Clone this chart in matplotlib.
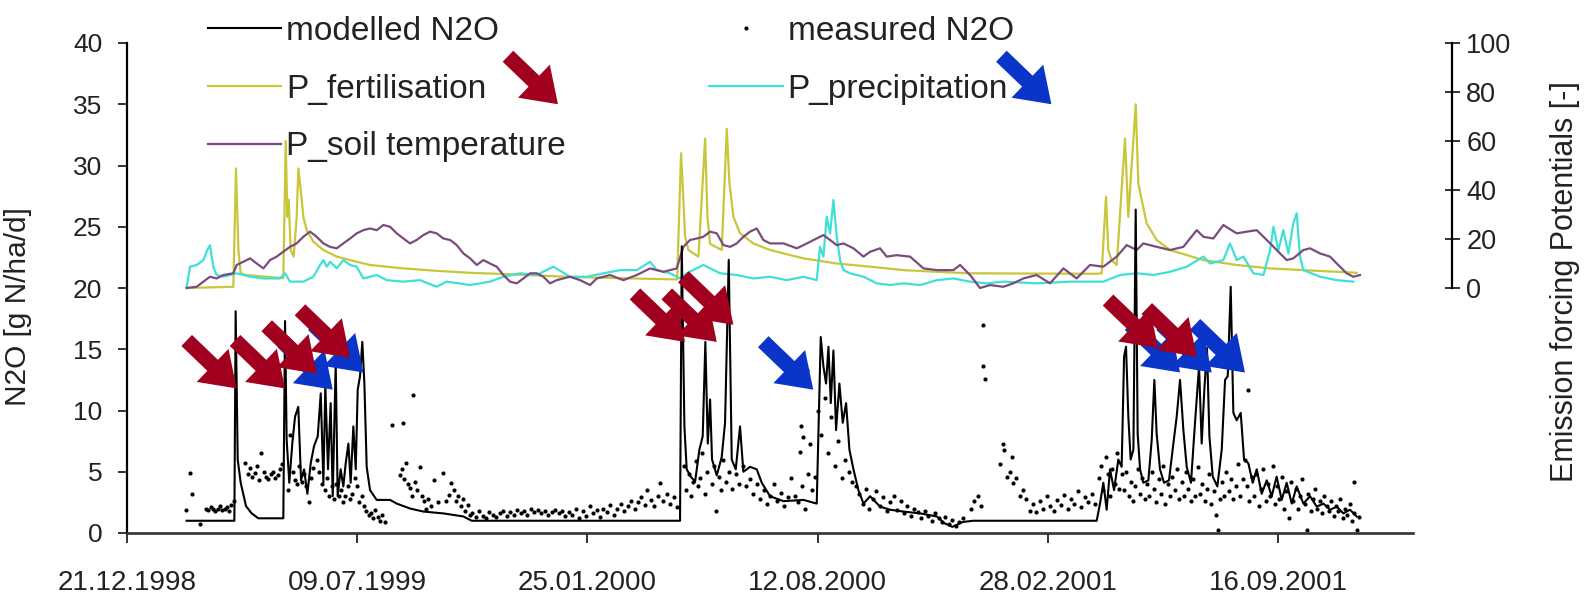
import numpy as np
import pandas as pd
import matplotlib
matplotlib.use("Agg")
import matplotlib.pyplot as plt
import matplotlib.dates as mdates

plt.rcParams['font.family'] = ['Liberation Sans', 'DejaVu Sans']

# ---------------- data (x = days after 21.12.1998) ----------------
START = '1998-12-21'
tick_labels = ['21.12.1998', '09.07.1999', '25.01.2000', '12.08.2000', '28.02.2001', '16.09.2001']
x_end_days = 1117

modelled = [
    (52, 1.0), (93.5, 1.0), (94.6, 18.1), (96.4, 6.0), (99, 4.1), (103.6, 2.2), (108.5, 1.6), (114.3, 1.2),
    (136, 1.2), (137.5, 17.3), (138.9, 7.6), (141.2, 4.1), (143.8, 7.3), (146.2, 9.5), (149, 10.3), (151.4, 4.3),
    (154, 5.2), (156.9, 3.2), (159.8, 5.7), (162.7, 7.1), (165.9, 7.9), (168.5, 11.4), (170.8, 4.1), (172.5, 12.0),
    (174.8, 5.2), (177.1, 10.6), (178.9, 3.0), (181.5, 13.9), (183.2, 3.0), (185.8, 5.2), (188.1, 3.8), (190.2, 5.7),
    (192.5, 7.3), (194.5, 4.1), (196.8, 8.7), (198.9, 5.2), (200.6, 11.7), (202.6, 12.8), (204.6, 15.6), (206.4, 12.2),
    (208.4, 5.4), (211.3, 3.5), (217.1, 2.7), (228.7, 2.7), (234.5, 2.4), (246, 2.0), (257.6, 1.75), (275, 1.6),
    (292.4, 1.35), (299.6, 1.0),
    (480.5, 1.0), (482, 23.4), (484.3, 8.7), (486.3, 5.2), (489.8, 4.6), (493.6, 4.2), (497.3, 6.8), (500.2, 7.9),
    (502.5, 15.6), (504.6, 7.3), (506.6, 10.9), (508.3, 6.0), (512.4, 4.7), (516.7, 6.2), (519.6, 9.0), (522.8, 22.3),
    (525.4, 6.0), (528.9, 5.2), (532.6, 8.7), (535.5, 5.0), (541.3, 5.4), (547.1, 5.2), (551.5, 4.1), (558.7, 3.0),
    (570.3, 2.6), (587.7, 2.7), (599.2, 2.4), (602.7, 16.0), (605, 13.6), (607.3, 12.2), (609.4, 15.2), (611.4, 10.6),
    (613.7, 14.9), (616, 8.4), (618.9, 12.2), (621.8, 9.0), (624.7, 10.6), (627.6, 6.8), (631.1, 5.2), (635.4, 3.5),
    (639.8, 2.4), (645.6, 3.0), (654.2, 2.15), (662.9, 1.9), (674.5, 1.75), (689, 1.6), (703.5, 1.35), (710, 0.8),
    (717, 0.5), (726, 0.9), (735, 1.0),
    (842.3, 1.0), (845.2, 2.4), (848.1, 4.1), (851, 1.9), (853.9, 5.2), (857.4, 3.5), (861.1, 6.0), (864, 5.4),
    (866.1, 14.4), (867.8, 15.2), (869.8, 9.5), (871.8, 6.0), (874.2, 6.8), (876.2, 26.4), (877.9, 8.1), (880, 5.2),
    (882.8, 4.1), (887.2, 4.3), (890.1, 7.6), (892.4, 12.5), (894.4, 8.1), (897.3, 5.2), (900.8, 4.1), (905.1, 4.3),
    (908.9, 7.3), (911.8, 9.5), (914.7, 12.5), (917.6, 8.4), (920.5, 5.4), (924.2, 4.1), (927.7, 9.0), (931.2, 13.6),
    (933.5, 7.3), (935.8, 11.7), (938.1, 15.1), (940.2, 7.9), (943.1, 4.6), (947.1, 3.8), (950.9, 6.8), (953.8, 12.5),
    (956.1, 12.8), (958.7, 20.1), (961, 9.8), (963.9, 9.2), (967.4, 9.8), (970.3, 6.0), (974, 5.7), (977.8, 4.1),
    (981.3, 5.2), (985.6, 3.2), (990, 4.3), (994.3, 3.0), (998.6, 4.6), (1003, 2.7), (1007.3, 4.1), (1011.7, 2.4),
    (1016, 3.8), (1021.8, 2.4), (1027.6, 3.0), (1033.4, 2.15), (1039.2, 2.4), (1045, 1.9), (1050.8, 2.15),
    (1056.5, 1.6), (1062.3, 1.9), (1068.1, 1.35),
]

measured = [
    (51.5, 1.9), (55, 4.9), (56.4, 3.2), (63.7, 0.7),
    (69, 2.0), (71, 1.9), (73, 2.1), (75, 2.0), (77, 1.8), (79, 2.0), (81, 2.2), (83, 1.9), (85, 2.0), (87, 2.1),
    (89, 1.8), (91, 2.3), (93, 2.6),
    (103, 5.7), (105, 4.8), (107, 5.3), (109, 4.6), (111, 4.9), (113, 5.5), (115, 4.3), (117, 6.5), (119, 5.0),
    (121, 4.6), (123, 4.4), (125, 4.8), (127, 5.0), (129, 4.5), (131, 4.7), (133, 5.2), (135, 5.6),
    (140, 3.5), (142, 8.0), (144, 5.0), (146, 4.3), (148, 4.0), (150, 5.5), (152, 4.2), (154, 4.8), (156, 3.8),
    (158, 2.5), (160, 4.5), (162, 5.3), (165, 6.0), (167, 5.0), (170, 4.0), (172, 3.5), (174, 4.5), (176, 3.0),
    (178, 3.8), (180, 2.8), (182, 4.0), (184, 3.0), (186, 3.5), (188, 2.5), (190, 3.0), (192, 3.8), (194, 2.8),
    (196, 3.2), (198, 4.5), (200, 3.8), (202, 2.5), (204, 3.0), (206, 2.2), (208, 1.8), (210, 1.5),
    (212, 1.6), (214, 1.2), (216, 1.9), (218, 1.3), (220, 1.0), (222, 1.5), (224, 0.9),
    (230, 8.8), (240.2, 9.0), (248.9, 11.3), (237, 4.7), (239, 5.2), (241, 4.4), (242.7, 5.7), (244, 4.0),
    (246, 3.7), (248, 3.0), (250, 4.2), (252, 3.5), (254.5, 5.4), (256, 3.0), (258, 2.6), (260, 2.0), (262, 2.8),
    (264, 2.2), (267, 4.3), (270, 2.5), (275, 4.9), (277, 2.6), (280, 3.1), (282, 4.1), (284, 3.5), (286, 2.6),
    (288, 3.0), (290, 2.2), (292, 2.8), (294, 1.8), (296, 2.3), (298, 1.5),
    (300, 1.6), (303, 1.3), (306, 1.8), (309, 1.4), (312, 1.2), (315, 1.7), (318, 1.5), (321, 1.3), (324, 1.6),
    (327, 1.8), (330, 1.4), (333, 1.7), (336, 1.5), (339, 1.9), (342, 1.6), (345, 1.8), (348, 1.5), (351, 2.0),
    (354, 1.7), (357, 1.9), (360, 1.6), (363, 1.8), (366, 1.5), (369, 1.7), (372, 1.9), (375, 1.6), (378, 1.8),
    (381, 1.4), (384, 1.7),
    (387, 1.5), (390, 2.0), (393, 1.2), (396, 1.8), (399, 1.4), (402, 2.2), (405, 1.6), (408, 1.9), (411, 1.3),
    (414, 2.0), (417, 1.7), (420, 2.3), (423, 1.5), (426, 2.0), (429, 2.4), (432, 1.8), (435, 2.2), (438, 2.6),
    (441, 2.0), (444, 2.5), (447, 2.9), (450, 2.3), (452, 3.5), (455, 2.7), (458, 2.2), (461, 3.0), (463, 4.1),
    (466, 2.6), (469, 3.2), (472, 2.4), (475, 2.9), (478, 2.1),
    (484, 5.5), (486, 3.5), (488, 4.8), (490, 3.0), (492, 4.2), (494, 5.9), (496, 3.8), (498, 4.5), (500, 6.5),
    (502, 3.2), (504, 5.0), (508, 4.0), (510, 5.5), (512, 1.8), (514, 4.6), (516, 3.5), (518, 6.0), (520, 4.2),
    (523, 5.0), (526, 3.6), (529, 4.8), (532, 4.0), (535, 5.5), (538, 3.8), (541, 4.4), (544, 3.2), (547, 4.0),
    (550, 2.8), (553, 3.5), (556, 2.4), (559, 3.0), (562, 4.0), (565, 2.6), (568, 3.3), (571, 2.2), (574, 2.9),
    (577, 4.5), (580, 3.0), (583, 2.5), (584.8, 6.6), (585.3, 8.7), (586, 3.8), (587.7, 7.8), (589, 2.0),
    (591, 13.3), (592, 4.8), (593.4, 7.3), (595, 3.5), (598, 4.6),
    (600, 10.0), (603, 8.0), (606, 11.0), (609, 6.5), (612, 9.5), (615, 5.5), (618, 7.5), (621, 4.5), (624, 6.0),
    (627, 5.0), (630, 4.2), (633, 3.8),
    (636, 3.2), (639, 2.4), (642, 3.6), (645, 2.0), (648, 2.8), (651, 3.4), (654, 2.2), (657, 2.9), (660, 1.8),
    (663, 2.5), (666, 3.0), (669, 1.9), (672, 2.6), (675, 1.6), (678, 2.2), (681, 1.4), (684, 2.0), (687, 1.7),
    (690, 1.2), (693, 1.8), (696, 1.4), (699, 1.0), (702, 1.6), (705, 1.2), (708, 0.9), (711, 1.3), (714, 0.7),
    (717, 1.1), (720, 0.6), (723, 0.9), (726, 1.2),
    (733, 2.0), (736, 2.6), (739, 3.0), (742, 2.2), (743.9, 17.0), (743.9, 13.6), (745.3, 12.6),
    (758.4, 5.6), (761.3, 7.3), (762, 6.8), (768.5, 6.2), (764.1, 4.6), (770, 4.1), (775.7, 3.0), (767, 5.0),
    (772, 4.5), (778, 3.5),
    (781, 2.8), (784, 1.8), (787, 2.4), (790, 1.7), (793, 2.6), (796, 2.0), (799, 3.0), (802, 2.2), (805, 1.8),
    (808, 2.7), (811, 2.3), (814, 3.1), (817, 2.0), (820, 2.8), (823, 2.4), (826, 3.4), (829, 2.1), (832, 2.9),
    (835, 2.5), (838, 3.2), (841, 2.4),
    (844, 4.5), (846, 5.5), (848, 3.5), (850, 6.2), (852, 4.8), (854, 3.0), (856, 5.2), (858, 4.0), (860, 6.5),
    (862, 3.6), (864, 4.8),
    (866, 3.5), (868, 5.0), (870, 3.0), (872, 4.2), (874, 2.6), (876, 3.8), (878, 5.2), (880, 3.2), (882, 4.5),
    (884, 2.8), (886, 4.0), (888, 3.0), (890, 5.0), (892, 3.6), (894, 2.5), (896, 4.4), (898, 3.2), (900, 5.5),
    (902, 2.4), (904, 4.0), (906, 3.0), (908, 4.6), (910, 3.5), (912, 5.2), (914, 2.8), (916, 4.2), (918, 3.0),
    (920, 5.0), (922, 3.6), (924, 2.6), (926, 4.4), (928, 3.0), (930, 5.4), (932, 3.2), (934, 4.0), (936, 2.6),
    (938, 3.6), (940, 4.8), (942, 2.4), (944, 3.4), (946, 1.5), (948, 0.27), (949, 2.8), (951, 4.2), (953, 3.0),
    (955, 5.0), (957, 3.4), (959, 4.4), (961, 2.8), (963, 3.8), (965, 5.6), (967, 3.0), (969, 4.4), (971, 6.0),
    (973, 3.8), (974, 11.7), (975, 2.6), (977, 4.6),
    (979, 3.0), (981, 4.8), (983, 2.2), (985, 3.6), (987, 5.2), (989, 2.6), (991, 4.0), (993, 3.0), (995, 5.5),
    (997, 2.4), (999, 3.8), (1001, 2.8), (1003, 4.6), (1005, 2.0), (1007, 3.4), (1009, 1.2), (1011, 4.2),
    (1013, 2.6), (1015, 3.6), (1017, 2.0), (1019, 3.0), (1021, 4.4), (1023, 2.4), (1024.7, 0.25), (1026, 3.2),
    (1028, 1.8), (1030, 2.8), (1032, 3.6), (1034, 2.0), (1036, 2.6), (1038, 1.6), (1040, 3.0), (1042, 2.2),
    (1044, 1.8), (1046, 2.6), (1048, 1.4), (1050, 2.2), (1052, 1.8), (1054, 2.8), (1056, 1.2), (1058, 2.0),
    (1060, 1.5), (1062, 2.4), (1064, 1.0), (1065.6, 4.2), (1066, 1.6), (1068, 0.25), (1070, 1.3),
]

p_fertilisation = [
    (52, 0), (92.6, 0.5), (94.9, 48.8), (97, 15.5), (99, 6.0), (103.7, 5.3), (136, 4.0), (138.1, 60), (139.5, 29),
    (140.7, 36), (142.4, 15.5), (145, 12.8), (147.6, 29), (149.1, 48.8), (151.1, 40), (153.4, 29), (156.3, 23.6),
    (162.1, 18.9), (170.8, 15.5), (182.4, 12.8), (199.7, 10.7), (211.3, 9.4), (240.3, 8.0), (269.2, 7.0),
    (298.2, 6.2), (338.7, 5.5), (385, 4.5), (430, 4.0), (478, 3.5),
    (481.4, 55), (483.4, 36), (484.9, 21), (487.8, 15.5), (496.5, 12.8), (502.3, 61), (504.3, 29), (506.6, 18),
    (516.7, 15.5), (521.1, 65), (523.4, 42.7), (526.9, 29), (532.6, 22.3), (544.2, 18.2), (558.7, 15.5),
    (587.7, 12.1), (616.6, 10), (645.6, 8.7), (674.5, 7.3), (703.5, 6.6), (732.4, 6.0),
    (842.3, 5.8), (846.6, 6.0), (850.4, 37.3), (852.4, 15.5), (855.3, 11.4), (859.7, 9.4), (866.9, 61),
    (869.8, 29), (872.7, 50), (876.2, 75), (878.5, 42.7), (881.4, 36), (885.7, 26.4), (894.4, 19.6), (906, 15.5),
    (934.9, 11.4), (963.9, 9.4), (992.8, 8.0), (1021.8, 7.3), (1068.1, 6.2),
]

p_precipitation = [
    (52.1, 0.5), (55, 8.7), (60.8, 9.4), (66.6, 11.4), (70, 15.5), (72.3, 17.5), (75.2, 8.7), (78.1, 5.3),
    (83.9, 4.6), (95.5, 6.0), (107.1, 4.6), (118.7, 3.9), (133.1, 3.9), (137.5, 6.0), (141.8, 2.6), (153.4, 2.6),
    (162.1, 4.6), (167.9, 9.4), (170.8, 11.4), (173.7, 8.7), (176.6, 10.7), (182.4, 8.0), (188.1, 11.4),
    (194, 9.4), (199.7, 8.7), (205.5, 3.9), (211.3, 4.6), (217.1, 5.3), (225.8, 3.2), (240.3, 2.6), (254.7, 3.2),
    (269.2, 0.5), (277.9, 2.6), (298.2, 1.2), (315.5, 2.6), (327.1, 4.6), (341.6, 6.0), (356.1, 5.3),
    (370.5, 8.7), (385, 4.6), (399.5, 4.6), (414, 6.0), (428.4, 7.3), (442.9, 7.3), (454.5, 10.7), (460.3, 7.3),
    (471.9, 6.0), (480.5, 3.9), (486.3, 6.0), (500.8, 9.4), (515.3, 6.0), (529.8, 5.3), (544.2, 3.9),
    (558.7, 4.6), (573.2, 3.2), (587.7, 4.6), (599.2, 3.2), (602.1, 16.8), (605, 12.8), (607.9, 29.1),
    (610.8, 22.3), (613.7, 35.9), (616.6, 20.9), (619.5, 11.4), (622.4, 7.3), (628.2, 6.0), (639.8, 4.6),
    (651.3, 1.9), (662.9, 1.2), (674.5, 1.9), (689, 1.2), (703.5, 3.2), (717.9, 3.9), (732.4, 2.6),
    (746.8, 1.9), (761.3, 2.6), (790.2, 1.9), (819.2, 2.6), (848.1, 2.6), (862.6, 5.3), (877.1, 6.0),
    (891.5, 5.3), (906, 6.6), (920.5, 8.7), (935, 12.8), (940.8, 10.0), (952.3, 11.4), (958.1, 18.2),
    (963.9, 11.4), (969.7, 12.8), (978.4, 6.0), (987.1, 5.3), (992.9, 15.5), (995.8, 25.0), (1000.1, 15.5),
    (1004.4, 23.6), (1008.8, 14.1), (1013.1, 26.4), (1016, 30.5), (1018.9, 12.8), (1021.8, 7.3), (1036.3, 4.6),
    (1050.8, 3.2), (1065.2, 2.6),
]

p_soil_temperature = [
    (52.1, 0), (60.8, 0.5), (66.6, 2.6), (72.3, 4.6), (78.1, 3.9), (83.9, 5.3), (92.6, 6.0), (95.5, 9.4),
    (101.3, 10.7), (107.1, 12.1), (112.9, 10.0), (118.7, 8.0), (124.5, 11.4), (130.2, 12.8), (136, 14.8),
    (141.8, 16.8), (147.6, 18.2), (153.4, 20.9), (159.2, 23.0), (165, 20.9), (170.8, 18.2), (176.6, 16.8),
    (182.4, 16.2), (188.1, 18.2), (194, 20.2), (199.7, 22.3), (205.5, 23.6), (211.3, 24.3), (217.1, 23.6),
    (222.9, 25.7), (228.7, 25.0), (234.5, 22.3), (240.3, 20.2), (246, 18.2), (251.8, 19.6), (257.6, 21.6),
    (263.4, 23.0), (269.2, 22.3), (275, 20.2), (280.8, 19.6), (286.6, 17.5), (292.4, 14.1), (298.2, 12.1),
    (304, 9.4), (309.7, 11.4), (315.5, 10.0), (321.3, 8.7), (327.1, 5.3), (332.9, 2.6), (338.7, 1.9),
    (344.5, 3.9), (350.3, 6.0), (356.1, 6.0), (361.8, 4.6), (367.6, 1.9), (373.4, 3.2), (379.2, 3.9),
    (385, 4.6), (393.7, 3.2), (402.4, 1.2), (408.2, 3.9), (419.7, 5.3), (431.3, 3.2), (442.9, 5.3),
    (454.5, 8.0), (466.1, 6.6), (477.6, 8.0), (483.4, 16.8), (489.2, 19.6), (495, 20.2), (500.8, 20.9),
    (506.6, 23.0), (512.4, 22.3), (518.2, 17.5), (524, 16.8), (529.8, 18.2), (535.5, 20.9), (541.3, 23.0),
    (547.1, 24.3), (552.9, 19.6), (558.7, 18.2), (570.3, 18.2), (581.9, 16.2), (587.7, 17.5), (599.2, 20.2),
    (605, 21.6), (610.8, 19.6), (616.6, 17.5), (622.4, 18.2), (631.1, 16.2), (639.8, 12.8), (645.6, 14.8),
    (654.2, 16.2), (660, 12.8), (668.7, 13.4), (680.3, 12.8), (691.9, 8.0), (703.5, 7.3), (717.9, 7.3),
    (723.7, 9.4), (732.4, 5.3), (741, 0.0), (749.7, 1.2), (761.3, 0.5), (769.9, 1.9), (778.6, 3.9),
    (790.2, 5.3), (801.8, 1.9), (813.4, 8.0), (824.9, 3.9), (836.5, 9.4), (848.1, 8.7), (859.7, 12.8),
    (868.4, 17.5), (877.1, 15.5), (882.8, 18.2), (894.4, 16.8), (906, 15.5), (917.6, 16.8), (929.2, 23.6),
    (935, 20.9), (943.6, 20.2), (952.3, 25.7), (963.9, 22.3), (972.6, 23.0), (981.3, 23.6), (990, 19.6),
    (998.6, 15.5), (1007.3, 11.4), (1013.1, 12.1), (1021.8, 15.5), (1027.6, 16.2), (1036.3, 14.1),
    (1045, 12.8), (1050.8, 10.0), (1059.4, 6.0), (1065.2, 4.6), (1071, 5.3),
]

# annotation arrows: tip position (day, N2O value)
red_arrow_tips = [(95.5, 11.8), (137.5, 11.8), (165, 13.0), (193.9, 14.3), (484.8, 15.6), (512.4, 15.6),
                  (526.8, 17.0), (895.6, 15.1), (929.2, 14.4), (374.5, 35.0)]
blue_arrow_tips = [(178.9, 11.7), (205.5, 13.1), (596.2, 11.7), (914.7, 13.1), (942.2, 13.1), (971.1, 13.1),
                   (803.0, 35.0)]

# ---------------- helpers ----------------
start = pd.Timestamp(START)


def to_num(days):
    return mdates.date2num(start + pd.to_timedelta(np.asarray(days, dtype=float), unit='D'))


def split(pairs):
    d, v = zip(*pairs)
    return to_num(d), np.asarray(v)


# ---------------- figure ----------------
W, H = 1591, 598
fig = plt.figure(figsize=(W / 100, H / 100), dpi=100)
left, right, top, bottom = 126.7, 1413, 43, 533
ax = fig.add_axes([left / W, 1 - bottom / H, (right - left) / W, (bottom - top) / H])
ax2 = ax.twinx()

C_FERT = '#c9c63a'
C_PREC = '#3fe0d6'
C_SOIL = '#7a4c7e'

x, y = split(p_fertilisation)
l_fert, = ax2.plot(x, y, color=C_FERT, lw=1.6)
x, y = split(p_precipitation)
l_prec, = ax2.plot(x, y, color=C_PREC, lw=1.6)
x, y = split(p_soil_temperature)
l_soil, = ax2.plot(x, y, color=C_SOIL, lw=1.6)

x, y = split(modelled)
l_mod, = ax.plot(x, y, color='black', lw=1.5)
x, y = split(measured)
l_meas, = ax.plot(x, y, ls='none', marker='o', ms=3.0, color='black', mew=0)

ax.set_zorder(ax2.get_zorder() + 1)
ax.patch.set_visible(False)

# axes limits / ticks
ax.set_xlim(to_num(0), to_num(x_end_days))
ax.set_ylim(0, 40)
ax.set_yticks(np.arange(0, 41, 5))
tick_pos = mdates.date2num(pd.to_datetime(tick_labels, format='%d.%m.%Y'))
ax.set_xticks(tick_pos)
ax.set_xticklabels(tick_labels)
ax.tick_params(axis='x', direction='out', length=7, width=1.3, pad=20, labelsize=20, colors='#222222')
ax.tick_params(axis='y', direction='out', length=6.5, width=1.3, pad=11, labelsize=19, colors='#222222')

for s in ['top', 'right']:
    ax.spines[s].set_visible(False)
ax.spines['left'].set_linewidth(1.6)
ax.spines['bottom'].set_linewidth(1.9)
ax.spines['bottom'].set_color('#333333')

ax2.set_ylim(-100, 100)
ax2.set_yticks(np.arange(0, 101, 20))
for s in ['top', 'left', 'bottom']:
    ax2.spines[s].set_visible(False)
ax2.spines['right'].set_bounds(0, 100)
ax2.spines['right'].set_position(('outward', 28))
ax2.spines['right'].set_linewidth(1.6)
ax2.tick_params(axis='y', direction='inout', length=10.8, width=1.3, pad=5, labelsize=19.5, colors='#222222')

# axis labels
fig.text(18 / W, 1 - 307 / H, 'N2O [g N/ha/d]', rotation=90, ha='center', va='center', fontsize=21.5,
         color='#222222')
fig.text(1565 / W, 1 - 282 / H, 'Emission forcing Potentials [-]', rotation=90, ha='center', va='center',
         fontsize=22, color='#222222')

# legend
handles = [l_mod, l_fert, l_soil, l_meas, l_prec]
labels = ['modelled N2O', 'P_fertilisation', 'P_soil temperature', 'measured N2O', 'P_precipitation']
leg = fig.legend(handles, labels, loc='upper left', bbox_to_anchor=(208 / W, 1 - 16 / H), ncol=2,
                 frameon=False, fontsize=24, handlelength=2.2, handletextpad=0.15, columnspacing=4.3,
                 labelspacing=0.8, borderpad=0, borderaxespad=0)
for t in leg.get_texts():
    t.set_color('#222222')

# arrows
style = 'simple,head_length=2.4,head_width=3.3,tail_width=1.1'
for d, v in blue_arrow_tips:
    ax.annotate('', xy=(to_num(d), v), xytext=(-50, 48), textcoords='offset pixels',
                arrowprops=dict(arrowstyle=style, mutation_scale=10, color='#0a35c8', lw=0,
                                shrinkA=0, shrinkB=0), zorder=10, annotation_clip=False)
for d, v in red_arrow_tips:
    ax.annotate('', xy=(to_num(d), v), xytext=(-50, 48), textcoords='offset pixels',
                arrowprops=dict(arrowstyle=style, mutation_scale=10, color='#a2001f', lw=0,
                                shrinkA=0, shrinkB=0), zorder=11, annotation_clip=False)

fig.savefig('out.png', dpi=100)
